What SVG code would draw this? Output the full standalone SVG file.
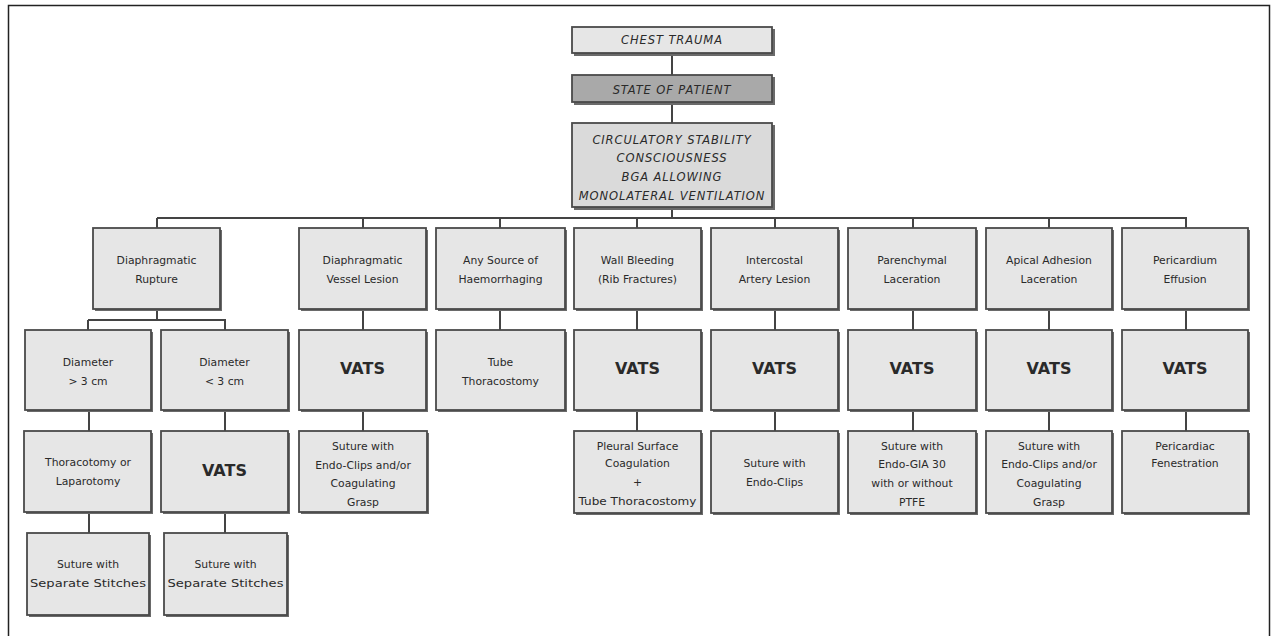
<svg xmlns="http://www.w3.org/2000/svg" width="1271" height="636" viewBox="0 0 1271 636">
<style>
.sh{fill:#6a6a6a}
.bx{fill:#e6e6e6;stroke:#4a4a4a;stroke-width:1.8}
.dk{fill:#a9a9a9}
.md{fill:#dadada}
.t{font-family:"DejaVu Sans",sans-serif;font-size:10.8px;fill:#2a2a2a;text-anchor:middle}
.cap{font-family:"DejaVu Sans",sans-serif;font-size:11.5px;letter-spacing:0.9px;font-style:italic;fill:#2a2a2a;text-anchor:middle}
.v{font-family:"DejaVu Sans",sans-serif;font-size:16px;font-weight:bold;fill:#2a2a2a;text-anchor:middle}
.ln{stroke:#444;stroke-width:2;fill:none}
</style>
<rect x="0" y="0" width="1271" height="636" fill="#fff"/>
<rect x="8.5" y="5.5" width="1261" height="640" fill="none" stroke="#222" stroke-width="1.5"/>
<g id="connectors">
<path class="ln" d="M672 53V75M672 103V123M672 207V218M157 218H1187"/>
<path class="ln" d="M157 218V228M363 218V228M500 218V228M637 218V228M775 218V228M913 218V228M1049 218V228M1186 218V228"/>
<path class="ln" d="M157 309V320M88 320H226M88 320V330M225 320V330"/>
<path class="ln" d="M363 309V330M500 309V330M637 309V330M775 309V330M913 309V330M1049 309V330M1186 309V330"/>
<path class="ln" d="M89 410V431M225 410V431M363 410V431M637 410V431M775 410V431M913 410V431M1049 410V431M1186 410V431"/>
<path class="ln" d="M89 512V533M225 512V533"/>
</g>
<g id="chest">
<rect class="sh" x="574" y="29" width="201" height="27"/>
<rect class="bx" x="572" y="27" width="200" height="26"/>
<text class="cap" x="672" y="44">CHEST TRAUMA</text>
</g>
<g id="state">
<rect class="sh" x="574" y="77" width="201" height="28"/>
<rect class="bx dk" x="572" y="75" width="200" height="27"/>
<text class="cap" x="672" y="94">STATE OF PATIENT</text>
</g>
<g id="circ">
<rect class="sh" x="574" y="125" width="201" height="85"/>
<rect class="bx md" x="572" y="123" width="200" height="84"/>
<text class="cap" x="672" y="143.5">CIRCULATORY STABILITY</text>
<text class="cap" x="672" y="162">CONSCIOUSNESS</text>
<text class="cap" x="672" y="180.5">BGA ALLOWING</text>
<text class="cap" x="672" y="200">MONOLATERAL VENTILATION</text>
</g>
<g id="c1">
<rect class="sh" x="95" y="230" width="127" height="81"/>
<rect class="bx" x="93" y="228" width="127" height="81"/>
<text class="t" x="156.5" y="263.5">Diaphragmatic</text>
<text class="t" x="156.5" y="282.5">Rupture</text>
</g>
<g id="c2">
<rect class="sh" x="301" y="230" width="127" height="81"/>
<rect class="bx" x="299" y="228" width="127" height="81"/>
<text class="t" x="362.5" y="263.5">Diaphragmatic</text>
<text class="t" x="362.5" y="282.5">Vessel Lesion</text>
</g>
<g id="c3">
<rect class="sh" x="438" y="230" width="129" height="81"/>
<rect class="bx" x="436" y="228" width="129" height="81"/>
<text class="t" x="500.5" y="263.5">Any Source of</text>
<text class="t" x="500.5" y="282.5">Haemorrhaging</text>
</g>
<g id="c4">
<rect class="sh" x="576" y="230" width="127" height="81"/>
<rect class="bx" x="574" y="228" width="127" height="81"/>
<text class="t" x="637.5" y="263.5">Wall Bleeding</text>
<text class="t" x="637.5" y="282.5">(Rib Fractures)</text>
</g>
<g id="c5">
<rect class="sh" x="713" y="230" width="127" height="81"/>
<rect class="bx" x="711" y="228" width="127" height="81"/>
<text class="t" x="774.5" y="263.5">Intercostal</text>
<text class="t" x="774.5" y="282.5">Artery Lesion</text>
</g>
<g id="c6">
<rect class="sh" x="850" y="230" width="128" height="81"/>
<rect class="bx" x="848" y="228" width="128" height="81"/>
<text class="t" x="912" y="263.5">Parenchymal</text>
<text class="t" x="912" y="282.5">Laceration</text>
</g>
<g id="c7">
<rect class="sh" x="988" y="230" width="126" height="81"/>
<rect class="bx" x="986" y="228" width="126" height="81"/>
<text class="t" x="1049" y="263.5">Apical Adhesion</text>
<text class="t" x="1049" y="282.5">Laceration</text>
</g>
<g id="c8">
<rect class="sh" x="1124" y="230" width="126" height="81"/>
<rect class="bx" x="1122" y="228" width="126" height="81"/>
<text class="t" x="1185" y="263.5">Pericardium</text>
<text class="t" x="1185" y="282.5">Effusion</text>
</g>
<g id="d1">
<rect class="sh" x="27" y="332" width="126" height="80"/>
<rect class="bx" x="25" y="330" width="126" height="80"/>
<text class="t" x="88" y="365.5">Diameter</text>
<text class="t" x="88" y="384.5">&gt; 3 cm</text>
</g>
<g id="d2">
<rect class="sh" x="163" y="332" width="127" height="80"/>
<rect class="bx" x="161" y="330" width="127" height="80"/>
<text class="t" x="224.5" y="365.5">Diameter</text>
<text class="t" x="224.5" y="384.5">&lt; 3 cm</text>
</g>
<g id="v2">
<rect class="sh" x="301" y="332" width="127" height="80"/>
<rect class="bx" x="299" y="330" width="127" height="80"/>
<text class="v" x="362.5" y="374">VATS</text>
</g>
<g id="v3">
<rect class="sh" x="438" y="332" width="129" height="80"/>
<rect class="bx" x="436" y="330" width="129" height="80"/>
<text class="t" x="500.5" y="365.5">Tube</text>
<text class="t" x="500.5" y="384.5">Thoracostomy</text>
</g>
<g id="v4">
<rect class="sh" x="576" y="332" width="127" height="80"/>
<rect class="bx" x="574" y="330" width="127" height="80"/>
<text class="v" x="637.5" y="374">VATS</text>
</g>
<g id="v5">
<rect class="sh" x="713" y="332" width="127" height="80"/>
<rect class="bx" x="711" y="330" width="127" height="80"/>
<text class="v" x="774.5" y="374">VATS</text>
</g>
<g id="v6">
<rect class="sh" x="850" y="332" width="128" height="80"/>
<rect class="bx" x="848" y="330" width="128" height="80"/>
<text class="v" x="912" y="374">VATS</text>
</g>
<g id="v7">
<rect class="sh" x="988" y="332" width="126" height="80"/>
<rect class="bx" x="986" y="330" width="126" height="80"/>
<text class="v" x="1049" y="374">VATS</text>
</g>
<g id="v8">
<rect class="sh" x="1124" y="332" width="126" height="80"/>
<rect class="bx" x="1122" y="330" width="126" height="80"/>
<text class="v" x="1185" y="374">VATS</text>
</g>
<g id="r1">
<rect class="sh" x="26" y="433" width="127" height="81"/>
<rect class="bx" x="24" y="431" width="127" height="81"/>
<text class="t" x="88" y="465.5">Thoracotomy or</text>
<text class="t" x="88" y="484.5">Laparotomy</text>
</g>
<g id="r2">
<rect class="sh" x="163" y="433" width="127" height="81"/>
<rect class="bx" x="161" y="431" width="127" height="81"/>
<text class="v" x="224.5" y="476">VATS</text>
</g>
<g id="r3">
<rect class="sh" x="301" y="433" width="128" height="81"/>
<rect class="bx" x="299" y="431" width="128" height="81"/>
<text class="t" x="363" y="449.5">Suture with</text>
<text class="t" x="363" y="468.5">Endo-Clips and/or</text>
<text class="t" x="363" y="487">Coagulating</text>
<text class="t" x="363" y="505.5">Grasp</text>
</g>
<g id="r4">
<rect class="sh" x="576" y="433" width="127" height="82"/>
<rect class="bx" x="574" y="431" width="127" height="82"/>
<text class="t" x="637.5" y="449.5">Pleural Surface</text>
<text class="t" x="637.5" y="467">Coagulation</text>
<text class="t" x="637.5" y="486">+</text>
<text class="t" x="637.5" y="504.5" textLength="118" lengthAdjust="spacingAndGlyphs">Tube Thoracostomy</text>
</g>
<g id="r5">
<rect class="sh" x="713" y="433" width="127" height="82"/>
<rect class="bx" x="711" y="431" width="127" height="82"/>
<text class="t" x="774.5" y="466.5">Suture with</text>
<text class="t" x="774.5" y="485.5">Endo-Clips</text>
</g>
<g id="r6">
<rect class="sh" x="850" y="433" width="128" height="82"/>
<rect class="bx" x="848" y="431" width="128" height="82"/>
<text class="t" x="912" y="449.5">Suture with</text>
<text class="t" x="912" y="468">Endo-GIA 30</text>
<text class="t" x="912" y="486.5">with or without</text>
<text class="t" x="912" y="505.5">PTFE</text>
</g>
<g id="r7">
<rect class="sh" x="988" y="433" width="126" height="82"/>
<rect class="bx" x="986" y="431" width="126" height="82"/>
<text class="t" x="1049" y="449.5">Suture with</text>
<text class="t" x="1049" y="468">Endo-Clips and/or</text>
<text class="t" x="1049" y="486.5">Coagulating</text>
<text class="t" x="1049" y="505.5">Grasp</text>
</g>
<g id="r8">
<rect class="sh" x="1124" y="433" width="126" height="82"/>
<rect class="bx" x="1122" y="431" width="126" height="82"/>
<text class="t" x="1185" y="449.5">Pericardiac</text>
<text class="t" x="1185" y="466.5">Fenestration</text>
</g>
<g id="s1">
<rect class="sh" x="29" y="535" width="122" height="82"/>
<rect class="bx" x="27" y="533" width="122" height="82"/>
<text class="t" x="88" y="567.5">Suture with</text>
<text class="t" x="88" y="586.5" textLength="116" lengthAdjust="spacingAndGlyphs">Separate Stitches</text>
</g>
<g id="s2">
<rect class="sh" x="166" y="535" width="123" height="82"/>
<rect class="bx" x="164" y="533" width="123" height="82"/>
<text class="t" x="225.5" y="567.5">Suture with</text>
<text class="t" x="225.5" y="586.5" textLength="116" lengthAdjust="spacingAndGlyphs">Separate Stitches</text>
</g>
</svg>
